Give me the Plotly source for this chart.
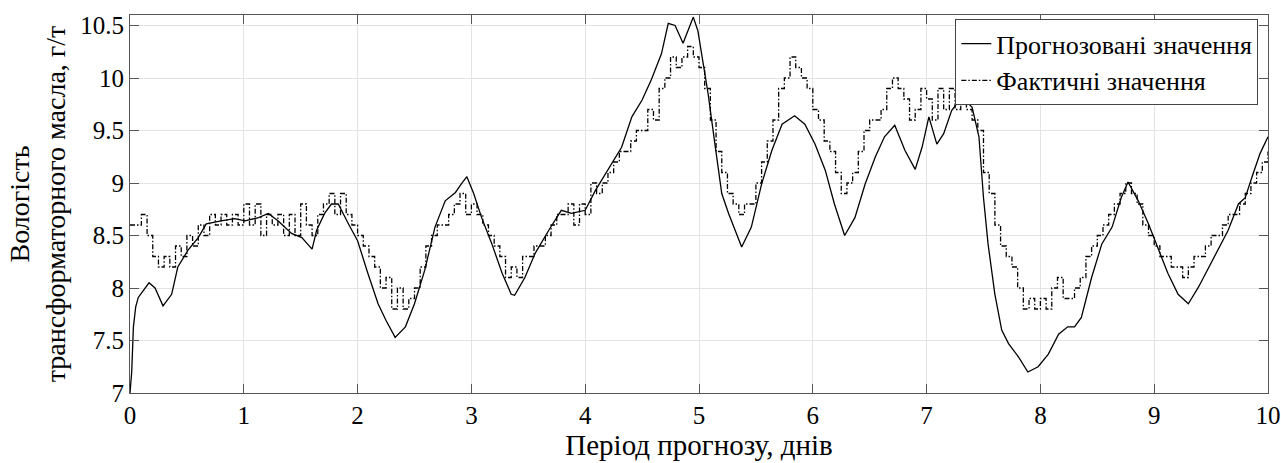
import numpy as np
import plotly.graph_objects as go

# Forecast (solid line)
fc_x = [0.0, 0.015, 0.03, 0.05, 0.073, 0.12, 0.167, 0.22, 0.29, 0.366, 0.42, 0.51, 0.6, 0.67, 0.8, 0.92,
        1.01, 1.13, 1.215, 1.30, 1.42, 1.51, 1.60, 1.64, 1.71, 1.77, 1.83, 1.92, 2.0, 2.09, 2.18, 2.25,
        2.33, 2.42, 2.50, 2.59, 2.68, 2.77, 2.86, 2.91, 2.96, 3.02, 3.09, 3.18, 3.27, 3.35, 3.38, 3.47,
        3.56, 3.68, 3.79, 3.88, 4.0, 4.09, 4.20, 4.32, 4.41, 4.50, 4.58, 4.67, 4.73, 4.79, 4.86, 4.91,
        4.95, 4.99, 5.02, 5.08, 5.14, 5.20, 5.26, 5.32, 5.375, 5.46, 5.55, 5.64, 5.73, 5.84, 5.93, 6.02,
        6.11, 6.19, 6.28, 6.37, 6.46, 6.55, 6.63, 6.72, 6.81, 6.90, 6.96, 7.02, 7.09, 7.15, 7.22, 7.31,
        7.40, 7.46, 7.50, 7.54, 7.60, 7.66, 7.72, 7.81, 7.89, 7.98, 8.07, 8.16, 8.24, 8.30, 8.36, 8.45,
        8.54, 8.63, 8.71, 8.77, 8.86, 8.95, 9.04, 9.12, 9.21, 9.30, 9.39, 9.48, 9.56, 9.65, 9.74, 9.80,
        9.86, 9.93, 10.0]
fc_y = [7.0, 7.2, 7.63, 7.82, 7.91, 7.98, 8.05, 8.0, 7.83, 7.94, 8.2, 8.36, 8.48, 8.61, 8.64, 8.66,
        8.64, 8.67, 8.71, 8.64, 8.52, 8.48, 8.37, 8.55, 8.71, 8.80, 8.80, 8.61, 8.45, 8.14, 7.85, 7.69,
        7.53, 7.63, 7.85, 8.17, 8.58, 8.83, 8.91, 8.99, 9.06, 8.90, 8.67, 8.42, 8.14, 7.94, 7.93, 8.10,
        8.33, 8.55, 8.74, 8.71, 8.74, 8.93, 9.12, 9.34, 9.63, 9.79, 9.98, 10.23, 10.52, 10.5, 10.33, 10.48,
        10.58, 10.45, 10.26, 9.85, 9.37, 8.90, 8.71, 8.55, 8.39, 8.58, 8.99, 9.31, 9.56, 9.64, 9.56, 9.37,
        9.12, 8.80, 8.50, 8.67, 8.99, 9.25, 9.44, 9.55, 9.31, 9.13, 9.34, 9.63, 9.37, 9.47, 9.69, 9.82,
        9.72, 9.44, 8.86, 8.42, 7.94, 7.60, 7.47, 7.34, 7.20, 7.25, 7.37, 7.56, 7.63, 7.63, 7.72, 8.10,
        8.42, 8.58, 8.86, 9.01, 8.83, 8.61, 8.36, 8.14, 7.94, 7.85, 8.01, 8.20, 8.36, 8.55, 8.80, 8.86,
        9.06, 9.28, 9.44]

# Actual (dash-dot, quantized), sampled every 0.05 day
act_y = [8.6, 8.6, 8.7, 8.5, 8.3, 8.2, 8.3, 8.2, 8.4, 8.3,
         8.5, 8.4, 8.6, 8.5, 8.7, 8.6, 8.7, 8.6, 8.7, 8.6,
         8.8, 8.6, 8.8, 8.5, 8.7, 8.6, 8.7, 8.5, 8.7, 8.5,
         8.8, 8.6, 8.5, 8.7, 8.8, 8.9, 8.7, 8.9, 8.7, 8.6,
         8.5, 8.4, 8.3, 8.2, 8.0, 8.1, 7.8, 8.0, 7.8, 7.9,
         8.0, 8.2, 8.4, 8.5, 8.6, 8.6, 8.7, 8.8, 8.9, 8.7,
         8.8, 8.7, 8.6, 8.5, 8.4, 8.3, 8.1, 8.2, 8.1, 8.3,
         8.3, 8.4, 8.4, 8.5, 8.6, 8.7, 8.7, 8.8, 8.6, 8.8,
         8.7, 9.0, 8.9, 9.0, 9.1, 9.2, 9.3, 9.3, 9.4, 9.5,
         9.5, 9.7, 9.6, 9.9, 10.0, 10.2, 10.1, 10.2, 10.3, 10.2,
         10.1, 9.9, 9.6, 9.3, 9.1, 8.9, 8.8, 8.7, 8.8, 8.8,
         9.0, 9.2, 9.4, 9.6, 9.9, 10.0, 10.2, 10.1, 10.0, 9.9,
         9.7, 9.6, 9.4, 9.3, 9.1, 8.9, 9.0, 9.1, 9.3, 9.5,
         9.6, 9.6, 9.7, 9.9, 10.0, 9.9, 9.8, 9.6, 9.7, 9.9,
         9.8, 9.6, 9.9, 9.7, 9.9, 9.7, 9.8, 9.7, 9.6, 9.5,
         9.1, 8.9, 8.6, 8.4, 8.3, 8.2, 8.0, 7.8, 7.9, 7.8,
         7.9, 7.8, 8.0, 8.1, 7.9, 7.9, 8.0, 8.1, 8.3, 8.4,
         8.5, 8.6, 8.7, 8.8, 8.9, 9.0, 8.9, 8.8, 8.6, 8.5,
         8.4, 8.3, 8.3, 8.2, 8.2, 8.1, 8.2, 8.3, 8.3, 8.4,
         8.5, 8.5, 8.6, 8.7, 8.7, 8.8, 8.9, 9.0, 9.1, 9.2,
         9.3]
act_x = np.linspace(0, 10, len(act_y))

y_ticks = [7, 7.5, 8, 8.5, 9, 9.5, 10, 10.5]
x_ticks = list(range(0, 11))

FONT = "Liberation Serif"

fig = go.Figure()
fig.add_trace(go.Scatter(x=fc_x, y=fc_y, mode="lines", name="Прогнозовані значення",
                         line=dict(color="black", width=1.3)))
fig.add_trace(go.Scatter(x=act_x, y=act_y, mode="lines", name="Фактичні значення",
                         line=dict(color="black", width=1.3, dash="5px,2px,1.5px,2px", shape="hv")))

axis_common = dict(showline=True, linecolor="#555", linewidth=1, mirror="ticks", ticks="inside",
                   ticklen=9, tickcolor="#555", showgrid=True, gridcolor="#e3e3e3", zeroline=False,
                   automargin=False, tickfont=dict(family=FONT, size=25, color="black"))
fig.update_xaxes(range=[0, 10], tickvals=x_ticks,
                 title=dict(text="Період прогнозу, днів", font=dict(family=FONT, size=29, color="black"),
                            standoff=0), **axis_common)
fig.update_yaxes(range=[7, 10.6], tickvals=y_ticks,
                 title=dict(text="Вологість<br>трансформаторного масла, г/т",
                            font=dict(family=FONT, size=28, color="black"), standoff=6), **axis_common)

fig.update_layout(
    width=1281, height=463,
    margin=dict(l=130, r=13, t=15, b=70),
    plot_bgcolor="white", paper_bgcolor="white",
    font=dict(family=FONT, size=25, color="black"),
    showlegend=True,
    legend=dict(x=0.9915, y=0.989, xanchor="right", yanchor="top", bgcolor="white",
                bordercolor="#444", borderwidth=1, font=dict(family=FONT, size=26),
                tracegroupgap=0, itemwidth=30),
)

fig.write_html("out.html", config={"displayModeBar": False},
               post_script="document.body.style.margin='0';document.body.style.overflow='hidden';")
